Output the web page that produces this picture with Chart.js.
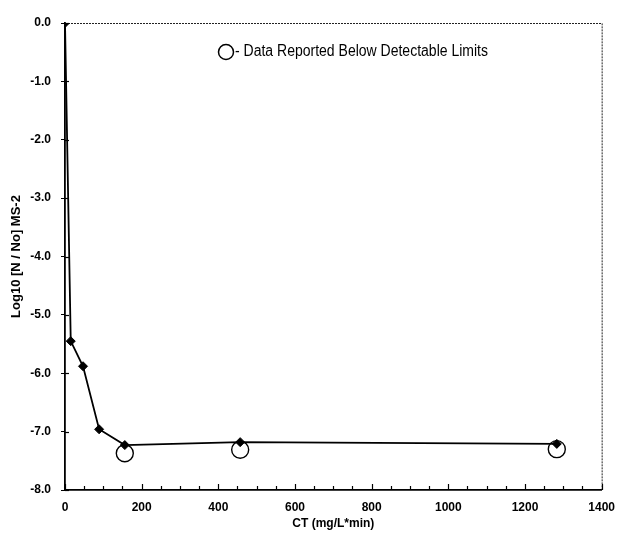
<!DOCTYPE html>
<html>
<head>
<meta charset="utf-8">
<script src="https://cdn.jsdelivr.net/npm/chart.js@4.4.1/dist/chart.umd.min.js"></script>
<style>
  html, body { margin: 0; padding: 0; background: #fff; }
  #wrap { width: 625px; height: 540px; }
</style>
</head>
<body>
<div id="wrap"><canvas id="c" width="625" height="540"></canvas></div>
<script>
// ---- Data ----
const ctValues     = [0, 15, 47, 89, 156, 457, 1283];          // CT (mg/L*min)
const logReduction = [0.0, -5.45, -5.88, -6.96, -7.23, -7.18, -7.21]; // Log10 [N/No] MS-2
const bdlCT        = [156, 457, 1283];                          // below detectable limits
const bdlLog       = [-7.37, -7.31, -7.30];
const xTicks       = [0, 200, 400, 600, 800, 1000, 1200, 1400];
const yTicks       = [0, -1, -2, -3, -4, -5, -6, -7, -8];
const legendText   = "- Data Reported Below Detectable Limits";
const xTitle       = "CT (mg/L*min)";
const yTitle       = "Log10 [N / No] MS-2";

const FONT = "'Liberation Sans Narrow', 'Liberation Sans', Arial, sans-serif";

const mainPts = ctValues.map((x, i) => ({ x, y: logReduction[i] }));
const bdlPts  = bdlCT.map((x, i) => ({ x, y: bdlLog[i] }));

// Plugin: dotted top/right frame, inward tick marks, legend note
const decor = {
  id: 'decor',
  beforeDatasetsDraw(chart) {
    const { ctx, chartArea: a, scales } = chart;
    ctx.save();
    ctx.strokeStyle = '#222';
    ctx.lineWidth = 1;
    ctx.setLineDash([2, 1]);
    ctx.beginPath();
    ctx.moveTo(a.left, a.top + 0.5);
    ctx.lineTo(a.right + 0.5, a.top + 0.5);
    ctx.lineTo(a.right + 0.5, a.bottom);
    ctx.stroke();
    ctx.setLineDash([]);
    ctx.strokeStyle = '#000';
    ctx.lineWidth = 1.2;
    scales.x.ticks.forEach(t => {
      const px = Math.round(scales.x.getPixelForValue(t.value)) + 0.5;
      const major = t.value % 200 === 0;
      ctx.beginPath();
      ctx.moveTo(px, a.bottom);
      ctx.lineTo(px, a.bottom - (major ? 6 : 4));
      ctx.stroke();
    });
    scales.y.ticks.forEach(t => {
      const py = Math.round(scales.y.getPixelForValue(t.value)) + 0.5;
      ctx.beginPath();
      ctx.moveTo(a.left, py);
      ctx.lineTo(a.left + 4, py);
      ctx.stroke();
    });
    ctx.restore();
  },
  afterDraw(chart) {
    const { ctx } = chart;
    ctx.save();
    ctx.strokeStyle = '#000';
    ctx.lineWidth = 1.5;
    ctx.beginPath();
    ctx.arc(226, 52, 7.5, 0, Math.PI * 2);
    ctx.stroke();
    ctx.fillStyle = '#000';
    ctx.font = "16px " + FONT;
    ctx.textBaseline = 'middle';
    ctx.textAlign = 'left';
    const w = ctx.measureText(legendText).width;
    const target = 253;
    ctx.translate(235, 52);
    ctx.scale(target / w, 1);
    ctx.fillText(legendText, 0, 0);
    ctx.restore();
  }
};

new Chart(document.getElementById('c'), {
  type: 'scatter',
  data: {
    datasets: [
      {
        label: 'MS-2',
        data: mainPts,
        showLine: true,
        borderColor: '#000',
        backgroundColor: '#000',
        borderWidth: 1.8,
        pointStyle: 'rectRot',
        pointRadius: 4.5,
        pointBorderWidth: 1,
        tension: 0
      },
      {
        label: 'Below detectable limits',
        data: bdlPts,
        showLine: false,
        borderColor: '#000',
        backgroundColor: 'rgba(0,0,0,0)',
        pointStyle: 'circle',
        pointRadius: 8.5,
        pointBorderWidth: 1.4
      }
    ]
  },
  options: {
    responsive: false,
    animation: false,
    devicePixelRatio: 1,
    layout: { padding: { left: 0, right: 20, top: 23, bottom: 0 } },
    plugins: {
      legend: { display: false },
      tooltip: { enabled: false }
    },
    scales: {
      x: {
        type: 'linear',
        min: 0,
        max: 1400,
        afterFit(s) { s.height = 50; },
        border: { display: true, color: '#000', width: 1.8 },
        grid: { display: true, drawOnChartArea: false, drawTicks: false, color: '#000' },
        ticks: {
          stepSize: 50,
          autoSkip: false,
          maxRotation: 0,
          padding: 10,
          color: '#000',
          font: { family: FONT, size: 12, weight: 'bold' },
          callback: v => (xTicks.includes(v) ? String(v) : '')
        },
        title: {
          display: true,
          text: xTitle,
          color: '#000',
          font: { family: FONT, size: 12, weight: 'bold' },
          padding: { top: 0, bottom: 9 }
        }
      },
      y: {
        type: 'linear',
        min: -8,
        max: 0,
        afterFit(s) { s.width = 65; },
        border: { display: true, color: '#000', width: 1.8 },
        grid: { display: true, drawOnChartArea: false, drawTicks: true, tickLength: 4, color: '#000' },
        ticks: {
          stepSize: 1,
          autoSkip: false,
          padding: 10,
          color: '#000',
          font: { family: FONT, size: 12, weight: 'bold' },
          callback: v => (yTicks.includes(v) ? Number(v).toFixed(1) : '')
        },
        title: {
          display: true,
          text: yTitle,
          color: '#000',
          font: { family: FONT, size: 13, weight: 'bold' },
          padding: { top: 9, bottom: 0 }
        }
      }
    }
  },
  plugins: [decor]
});
</script>
</body>
</html>
